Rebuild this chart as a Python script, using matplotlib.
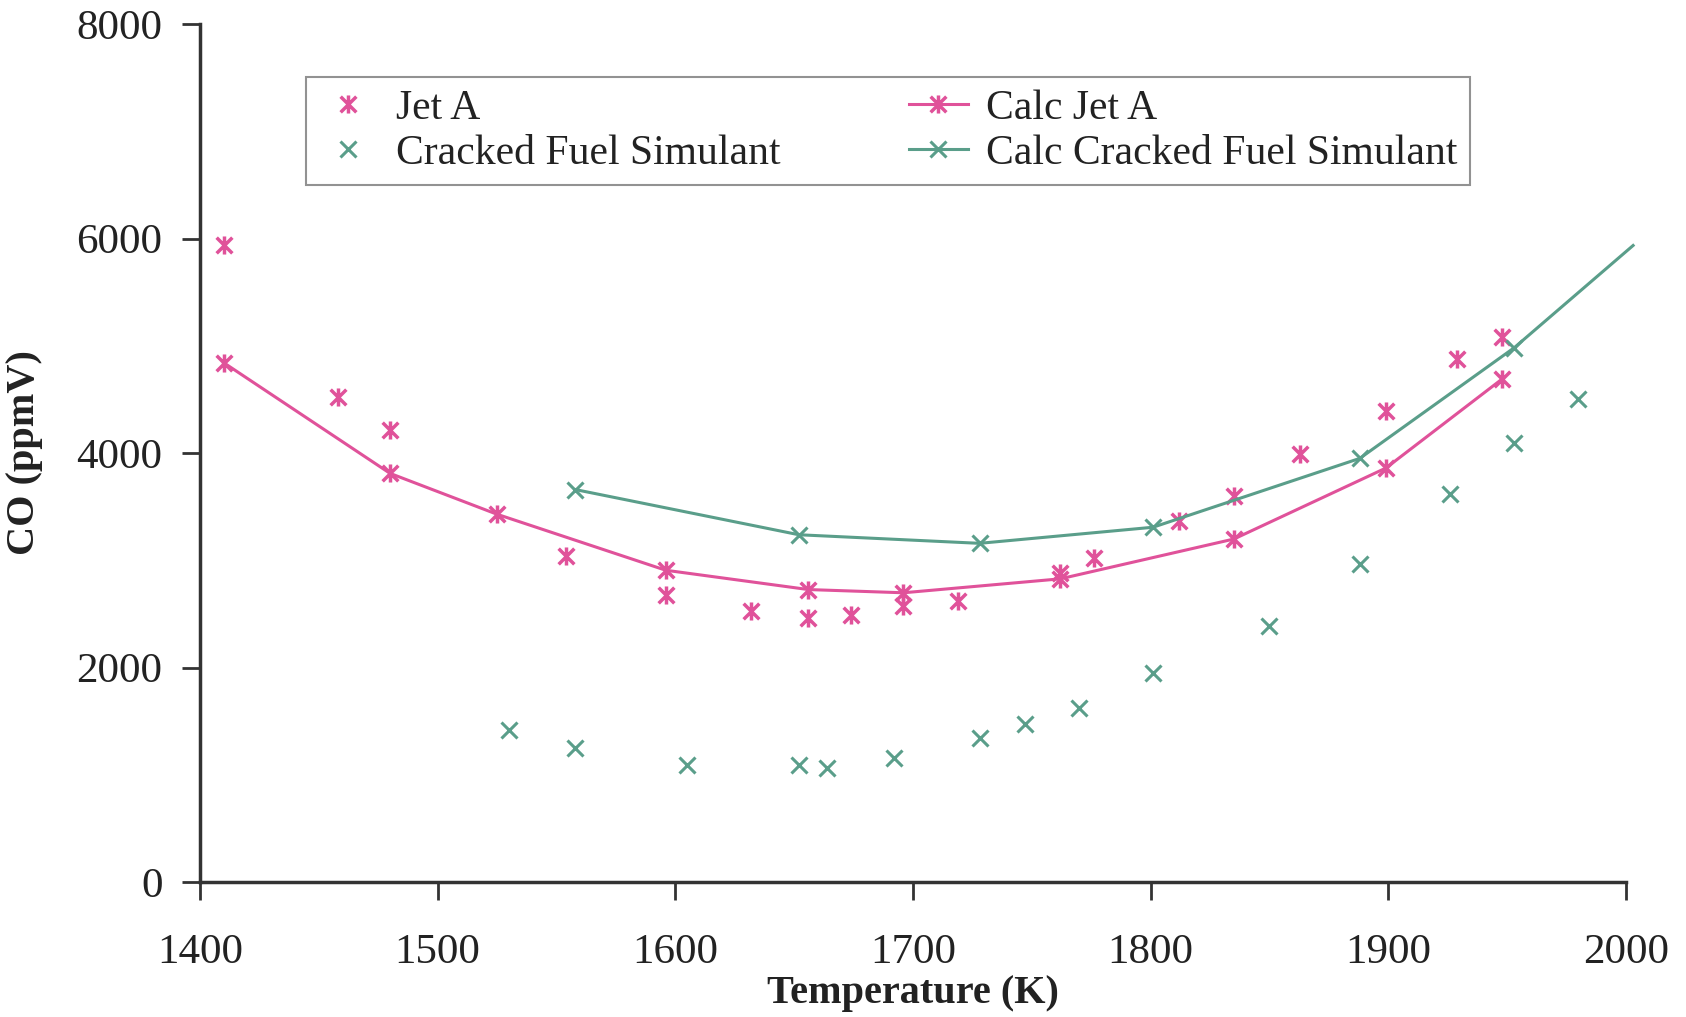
import matplotlib
matplotlib.use("Agg")
import matplotlib.pyplot as plt
from matplotlib.path import Path

# Measured data
jet_T = [1410, 1458, 1480, 1554, 1596, 1632, 1656, 1674, 1696, 1719, 1762, 1776, 1812, 1835, 1863, 1899, 1929, 1948]
jet_CO = [5935, 4521, 4211, 3038, 2677, 2526, 2466, 2486, 2576, 2617, 2877, 3018, 3368, 3599, 3990, 4391, 4872, 5083]

calc_jet_T = [1410, 1480, 1525, 1596, 1656, 1696, 1762, 1835, 1899, 1948]
calc_jet_CO = [4842, 3810, 3429, 2907, 2727, 2697, 2827, 3198, 3860, 4692]

cfs_T = [1530, 1558, 1605, 1652, 1664, 1692, 1728, 1747, 1770, 1801, 1850, 1888, 1926, 1953, 1980]
cfs_CO = [1414, 1253, 1093, 1093, 1063, 1153, 1343, 1474, 1624, 1945, 2386, 2967, 3619, 4090, 4501]

calc_cfs_T = [1558, 1652, 1728, 1801, 1888, 1953, 2003]
calc_cfs_CO = [3659, 3238, 3158, 3308, 3950, 4982, 5935]

x_ticks = [1400, 1500, 1600, 1700, 1800, 1900, 2000]
y_ticks = [0, 2000, 4000, 6000, 8000]

PINK = "#E0529A"
TEAL = "#5A9E8A"
AXC = "#333333"

plt.rcParams['font.family'] = ['Liberation Serif', 'DejaVu Serif']

# star marker: x plus vertical line
star = Path([(-1, -1), (1, 1), (-1, 1), (1, -1), (0, -1.15), (0, 1.15)],
            [Path.MOVETO, Path.LINETO, Path.MOVETO, Path.LINETO, Path.MOVETO, Path.LINETO])

fig = plt.figure(figsize=(16.86, 10.17), dpi=100)
ax = fig.add_axes([0.1186, 0.1327, 0.8458, 0.8437])

ax.plot(jet_T, jet_CO, linestyle='none', marker=star, ms=13, mec=PINK, mew=2.5, color=PINK, label='Jet A')
ax.plot(cfs_T, cfs_CO, linestyle='none', marker='x', ms=12, mec=TEAL, mew=2.2, color=TEAL, label='Cracked Fuel Simulant')
ax.plot(calc_jet_T, calc_jet_CO, color=PINK, lw=2.2, marker=star, ms=13, mew=2.5, label='Calc Jet A')
ax.plot(calc_cfs_T, calc_cfs_CO, color=TEAL, lw=2.2, marker='x', ms=12, mew=2.2,
        markevery=list(range(len(calc_cfs_T) - 1)), label='Calc Cracked Fuel Simulant', clip_on=False)

ax.set_xlim(1400, 2000)
ax.set_ylim(0, 8000)
ax.set_xticks(x_ticks)
ax.set_yticks(y_ticks)
ax.tick_params(labelsize=31, colors='#222222', length=13, width=2, color=AXC)
ax.tick_params(axis='x', pad=24)
ax.tick_params(axis='y', pad=14)
for s in ['top', 'right']:
    ax.spines[s].set_visible(False)
for s in ['left', 'bottom']:
    ax.spines[s].set_color(AXC)
    ax.spines[s].set_linewidth(2.5)

ax.set_xlabel('Temperature (K)', fontsize=29, fontweight='bold', color='#222222', labelpad=2)
ax.set_ylabel('CO (ppmV)', fontsize=29, fontweight='bold', color='#222222', labelpad=24)

leg = ax.legend(ncol=2, loc='upper left', bbox_to_anchor=(306 / 1686, 1 - 77 / 1017),
                bbox_transform=fig.transFigure, fontsize=30, frameon=True, fancybox=False,
                edgecolor='#777777', handlelength=1.4, handletextpad=0.45, columnspacing=3.1,
                borderpad=0.3, labelspacing=0.15, borderaxespad=0)
leg.get_frame().set_linewidth(1.5)
for t in leg.get_texts():
    t.set_color('#222222')

fig.savefig('out.png', dpi=100, facecolor='white')
